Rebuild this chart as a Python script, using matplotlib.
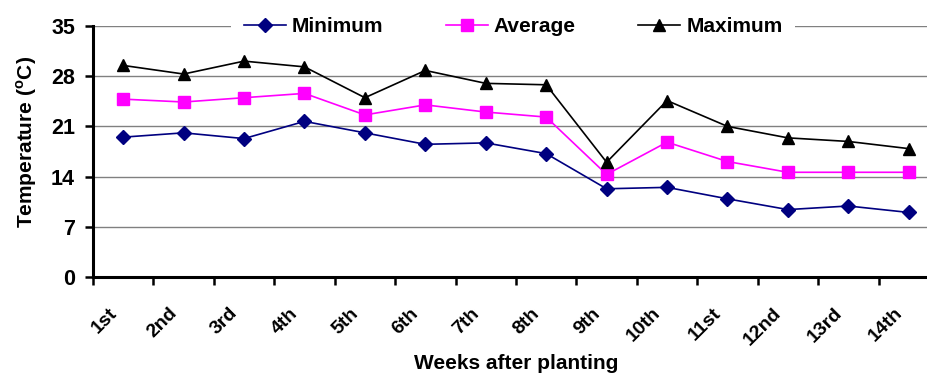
import numpy as np
import matplotlib
matplotlib.use("Agg")
import matplotlib.pyplot as plt
import matplotlib.transforms as mtransforms

plt.rcParams['font.family'] = ['Liberation Sans', 'DejaVu Sans']
plt.rcParams['font.weight'] = 'bold'
plt.rcParams['mathtext.fontset'] = 'custom'
plt.rcParams['mathtext.rm'] = 'Liberation Sans:bold'
plt.rcParams['mathtext.bf'] = 'Liberation Sans:bold'

# data
weeks = ['1st', '2nd', '3rd', '4th', '5th', '6th', '7th', '8th',
         '9th', '10th', '11st', '12nd', '13rd', '14th']
t_min = [19.5, 20.1, 19.3, 21.7, 20.1, 18.5, 18.7, 17.2, 12.3, 12.5, 10.9, 9.4, 9.9, 9.0]
t_avg = [24.8, 24.4, 25.0, 25.6, 22.6, 24.0, 23.0, 22.3, 14.3, 18.8, 16.1, 14.6, 14.6, 14.6]
t_max = [29.5, 28.3, 30.1, 29.3, 25.0, 28.8, 27.0, 26.8, 16.0, 24.6, 21.0, 19.4, 18.9, 17.9]

fig = plt.figure(figsize=(9.28, 3.76), dpi=100)
ax = fig.add_axes([0.1002, 0.2633, 0.9116, 0.6676])

x = np.arange(len(weeks)) + 0.5
ax.plot(x, t_min, color='#000080', marker='D', ms=7, lw=1.2, label='Minimum')
ax.plot(x, t_avg, color='#FF00FF', marker='s', ms=8, lw=1.2, label='Average')
ax.plot(x, t_max, color='black', marker='^', ms=8, lw=1.2, label='Maximum')

ax.set_xlim(0, len(weeks))
ax.set_ylim(0, 35)
ax.set_yticks(np.arange(0, 36, 7))
ax.yaxis.grid(True, color='#808080', lw=1)
ax.set_axisbelow(True)

# tick marks at category boundaries, labels at centres
ax.set_xticks(np.arange(0, len(weeks) + 1))
ax.set_xticklabels([])
ax.set_xticks(x, minor=True)
ax.set_xticklabels(weeks, minor=True, rotation=45, ha='right', va='top', fontsize=14)
ax.tick_params(axis='x', which='minor', length=0, pad=20)
ax.tick_params(axis='x', which='major', length=6, width=1.8, direction='out')
ax.tick_params(axis='y', length=6, width=1.8, labelsize=15.5, pad=7)
offset = mtransforms.ScaledTranslation(-3 / 100, 0, fig.dpi_scale_trans)
for lab in ax.get_xticklabels(minor=True):
    lab.set_transform(lab.get_transform() + offset)

for s in ['top', 'right']:
    ax.spines[s].set_visible(False)
for s in ['left', 'bottom']:
    ax.spines[s].set_linewidth(2.2)

ax.set_ylabel(r'Temperature ($^{\mathrm{o}}$C)', fontsize=15, fontweight='bold')
ax.yaxis.set_label_coords(-0.064, 0.538)
ax.set_xlabel('Weeks after planting', fontsize=15, fontweight='bold')
ax.xaxis.set_label_coords(0.5, -0.307)

leg = fig.legend(loc='center', bbox_to_anchor=(0.553, 0.93), ncol=3, fontsize=15,
                 frameon=True, facecolor='white', edgecolor='none', framealpha=1,
                 handlelength=2.0, handletextpad=0.3, columnspacing=3.0,
                 borderpad=0.6, fancybox=False)

fig.savefig('out.png', dpi=100)
